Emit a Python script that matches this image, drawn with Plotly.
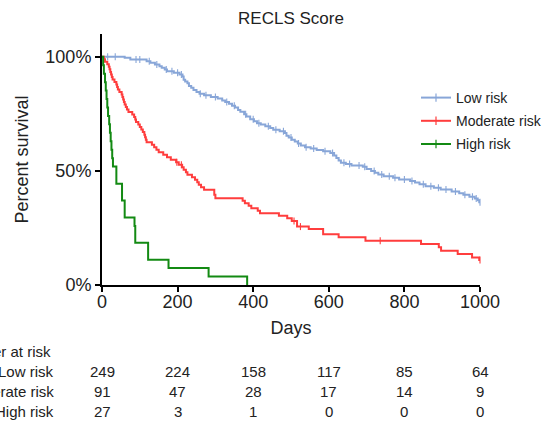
import numpy as np
import plotly.graph_objects as go

# ---------------- data ----------------
low_days = [0, 60, 75, 118, 128, 140, 152, 158, 166, 172, 190, 205, 213, 216, 220, 226, 230, 236,
            242, 250, 258, 270, 288, 306, 318, 326, 336, 344, 352, 360, 366, 376, 382, 392, 402,
            410, 420, 432, 445, 453, 470, 484, 488, 494, 502, 510, 518, 526, 537, 552, 568, 585,
            604, 614, 620, 626, 632, 645, 660, 690, 700, 712, 722, 731, 745, 770, 786, 815, 828,
            840, 856, 878, 896, 925, 945, 956, 972, 986, 994, 998, 1000]
low_surv = [100, 99.6, 98.8, 98.1, 97.4, 96.6, 95.9, 95.2, 94.4, 93.7, 93.0, 92.2, 91.4, 90.0, 89.2,
            88.4, 87.2, 86.4, 85.5, 84.6, 83.8, 83.2, 82.4, 81.7, 80.9, 80.2, 79.4, 78.6, 77.8, 76.7,
            75.9, 74.8, 73.8, 72.6, 71.8, 70.9, 70.3, 69.6, 68.8, 68.0, 67.4, 66.6, 65.4, 64.6, 63.7,
            62.9, 62.0, 61.1, 60.4, 59.8, 59.2, 58.6, 57.8, 56.8, 55.7, 54.6, 53.6, 53.0, 52.4, 51.8,
            50.8, 50.0, 49.2, 48.4, 47.7, 47.0, 46.2, 45.6, 44.9, 44.1, 43.3, 42.6, 41.8, 41.0, 40.2,
            39.5, 38.7, 37.9, 37.1, 36.3, 36.3]
low_censor = [15, 35, 90, 100, 125, 145, 170, 185, 200, 210, 260, 275, 300, 330, 350, 380, 400, 415,
              440, 460, 480, 500, 520, 540, 560, 590, 610, 640, 655, 680, 695, 720, 740, 760, 775,
              800, 820, 850, 870, 890, 910, 935, 960, 980, 990, 1000]

mod_days = [0, 5, 8, 14, 18, 20, 22, 24, 26, 28, 33, 38, 40, 42, 46, 52, 54, 56, 58, 60, 63, 66, 70,
            80, 85, 88, 90, 96, 100, 104, 108, 112, 114, 116, 118, 132, 138, 144, 150, 162, 172,
            182, 196, 203, 212, 216, 222, 226, 238, 246, 252, 256, 262, 270, 297, 300, 372, 378,
            388, 395, 412, 418, 468, 490, 502, 516, 547, 585, 626, 697, 844, 891, 897, 941, 979,
            998, 1000]
mod_surv = [100, 98.9, 97.8, 96.7, 95.6, 94.5, 93.4, 92.3, 91.2, 90.1, 89.0, 87.9, 86.8, 85.7, 84.6,
            83.5, 82.4, 81.3, 80.2, 79.1, 78.0, 76.9, 75.8, 74.7, 73.6, 72.5, 71.4, 70.3, 69.2, 68.1,
            67.0, 65.9, 64.8, 63.7, 62.6, 61.5, 60.4, 59.3, 58.2, 57.1, 56.0, 54.9, 53.8, 52.7, 51.6,
            50.5, 49.4, 48.3, 47.2, 46.1, 45.0, 43.9, 42.8, 41.7, 39.6, 38.0, 36.9, 35.8, 34.7, 33.6,
            32.5, 31.4, 30.3, 29.2, 28.0, 25.6, 24.5, 22.2, 20.9, 19.4, 18.0, 16.5, 15.0, 13.6, 12.1,
            11.0, 11.0]
mod_censor = [198, 210, 508, 525, 736, 1000]

high_days = [0, 3, 5, 8, 10, 12, 14, 16, 19, 21, 23, 25, 27, 29, 38, 53, 60, 86, 88, 122, 176, 282, 384]
high_surv = [100, 96.3, 92.6, 88.9, 85.2, 81.5, 77.8, 74.1, 70.4, 66.7, 63.0, 59.3, 55.6, 51.9, 44.4,
             37.0, 29.6, 25.9, 18.5, 11.1, 7.4, 3.7, 0]
high_censor = []

group_names = ["Low risk", "Moderate risk", "High risk"]
group_colors = ["#88a6d8", "#ff3d3d", "#138a13"]

risk_days = [0, 200, 400, 600, 800, 1000]
risk_low = [249, 224, 158, 117, 85, 64]
risk_mod = [91, 47, 28, 17, 14, 9]
risk_high = [27, 3, 1, 0, 0, 0]

x_ticks = [0, 200, 400, 600, 800, 1000]
y_ticks = [0, 50, 100]
y_tick_text = ["0%", "50%", "100%"]

FONT = "Liberation Sans, Arial, Helvetica, sans-serif"
TXT = "#222"


def step_value(days, surv, t):
    idx = np.searchsorted(np.asarray(days), t, side="right") - 1
    return float(np.asarray(surv)[idx])


fig = go.Figure()
groups = [(low_days, low_surv, low_censor), (mod_days, mod_surv, mod_censor),
          (high_days, high_surv, high_censor)]
for (d, s, c), name, col in zip(groups, group_names, group_colors):
    fig.add_trace(go.Scatter(x=d, y=s, mode="lines", line=dict(color=col, width=2, shape="hv"),
                             showlegend=False, hoverinfo="skip", cliponaxis=False))
    if c:
        fig.add_trace(go.Scatter(x=c, y=[step_value(d, s, t) for t in c], mode="markers",
                                 marker=dict(symbol="line-ns", size=5,
                                             line=dict(color=col, width=1.1)),
                                 showlegend=False, hoverinfo="skip", cliponaxis=False))
    fig.add_trace(go.Scatter(x=[None], y=[None], mode="lines+markers", name=name, legendgroup=name,
                             line=dict(color=col, width=2),
                             marker=dict(symbol="line-ns", size=6, line=dict(color=col, width=1.2))))

# number-at-risk table (paper coords; plot area spans x 102..480 px)
PW = 378.0
def px_to_paper(px):
    return (px - 102) / PW

ann = []
ann.append(dict(x=px_to_paper(53), y=0, xref="paper", yref="paper", yshift=-66,
                text="Number at risk", showarrow=False, xanchor="right", yanchor="middle",
                font=dict(family=FONT, size=15, color=TXT)))
rows = [("Low risk", risk_low), ("Moderate risk", risk_mod), ("High risk", risk_high)]
for i, (lab, vals) in enumerate(rows):
    ys = -86 - 20 * i
    ann.append(dict(x=px_to_paper(56), y=0, xref="paper", yref="paper", yshift=ys, text=lab,
                    showarrow=False, xanchor="right", yanchor="middle",
                    font=dict(family=FONT, size=15, color=TXT)))
    for dd, v in zip(risk_days, vals):
        ann.append(dict(x=dd, y=0, xref="x", yref="paper", yshift=ys, text=str(v),
                        showarrow=False, xanchor="center", yanchor="middle",
                        font=dict(family=FONT, size=15, color=TXT)))

fig.update_layout(
    width=550, height=422,
    margin=dict(l=102, r=70, t=34, b=137, autoexpand=False),
    paper_bgcolor="white", plot_bgcolor="white",
    font=dict(family=FONT, color=TXT),
    title=dict(text="RECLS Score", x=0.5, xref="paper", xanchor="center", y=1 - 18 / 422,
               yref="container", yanchor="middle",
               font=dict(family=FONT, size=17, color=TXT)),
    legend=dict(x=px_to_paper(416), y=(285 - 82) / 251.0, xref="paper", yref="paper",
                xanchor="left", yanchor="top",
                font=dict(family=FONT, size=14, color=TXT), tracegroupgap=2,
                bgcolor="rgba(0,0,0,0)", itemwidth=30),
    annotations=ann,
)
fig.update_xaxes(range=[0, 1000], tickvals=x_ticks, showgrid=False, zeroline=False, automargin=False,
                 showline=True, linecolor="black", linewidth=2, ticks="outside", ticklen=5,
                 tickwidth=2, tickcolor="black", tickfont=dict(family=FONT, size=18, color=TXT),
                 ticklabelstandoff=-6,
                 title=dict(text="Days", font=dict(family=FONT, size=18, color=TXT), standoff=11))
fig.update_yaxes(range=[0, 110], tickvals=y_ticks, ticktext=y_tick_text, showgrid=False,
                 automargin=False,
                 zeroline=False, showline=True, linecolor="black", linewidth=2, ticks="outside",
                 ticklen=5, tickwidth=2, tickcolor="black",
                 tickfont=dict(family=FONT, size=18, color=TXT),
                 title=dict(text="Percent survival", font=dict(family=FONT, size=18, color=TXT),
                            standoff=12))

fig.write_html("out.html", config={"displayModeBar": False},
               post_script="document.body.style.margin='0';")
